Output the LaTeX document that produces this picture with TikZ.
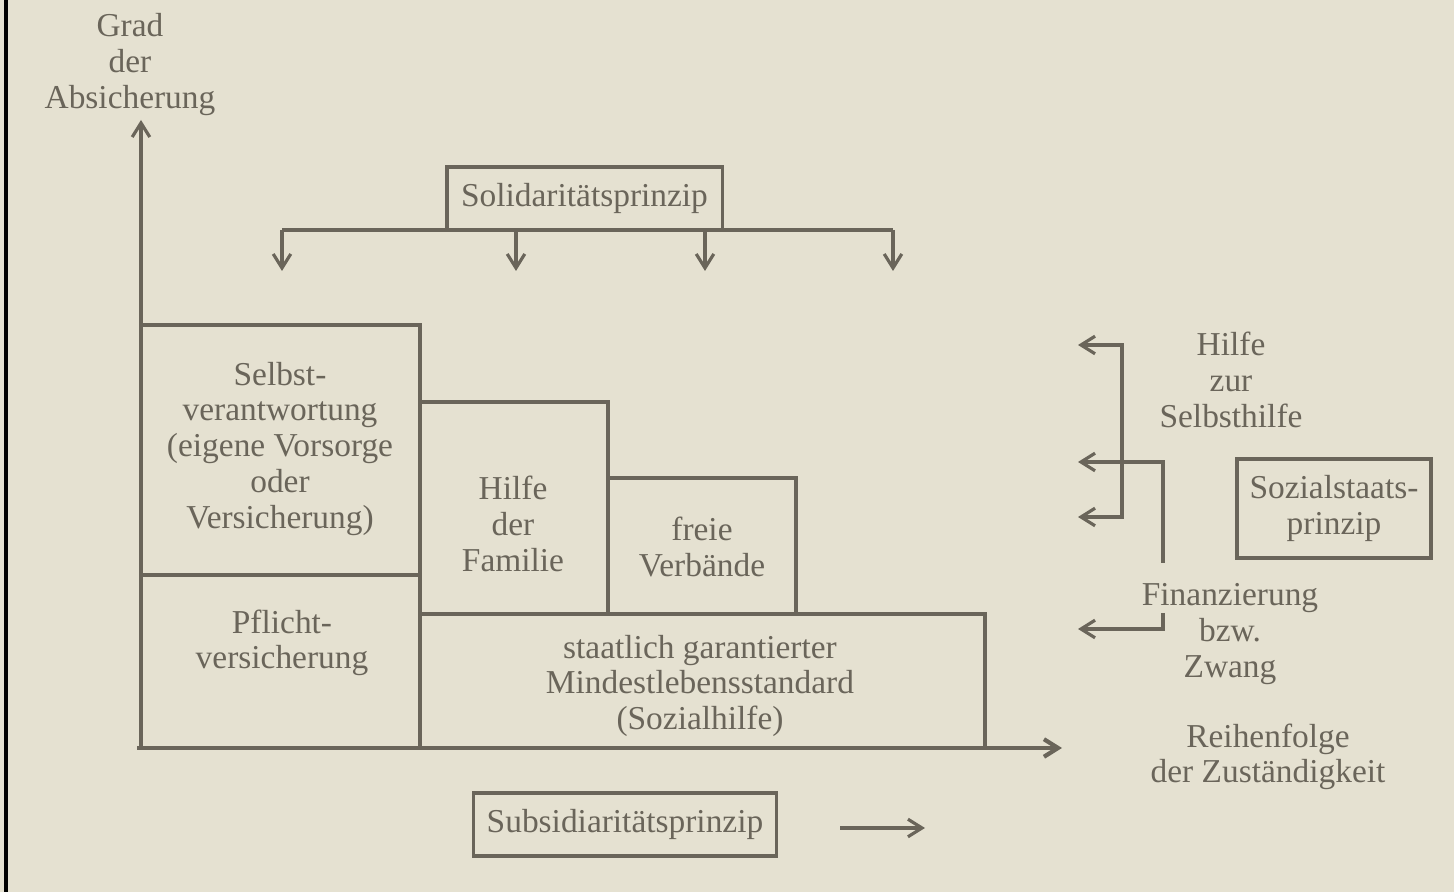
\documentclass[tikz,border=0pt]{standalone}
\usepackage{fontspec}
\setmainfont{Liberation Serif}
\usetikzlibrary{arrows.meta}

\definecolor{papier}{RGB}{229,225,209}
\definecolor{tinte}{RGB}{106,101,90}

\tikzset{
  linie/.style={draw=tinte, line width=0.9pt},
  pfeil/.style={linie, -{Straight Barb[length=4pt,width=5pt]}},
  doppelpfeil/.style={linie, {Straight Barb[length=4pt,width=5pt]}-{Straight Barb[length=4pt,width=5pt]}},
  schrift/.style={text=tinte, align=center, inner sep=0pt, font=\fontsize{9.5}{10.2}\selectfont},
  beschr/.style={schrift, yshift=-1.1pt},
  kasten/.style={schrift, draw=tinte, line width=0.9pt}
}

\begin{document}
\begin{tikzpicture}[x=0.01cm, y=-0.01cm]
        \fill[papier] (0,0) rectangle (1454,892);
        \useasboundingbox (0,0) rectangle (1454,892);
        \fill[black] (4,0) rectangle (8,892);

        % Achsen
        \coordinate (ursprung) at (141,748);
        \coordinate (yende) at (141,120);
        \coordinate (xende) at (1062,748);
        \draw[pfeil] (ursprung) -- (yende);
        \draw[pfeil, line width=1.2pt] (137,748) -- (xende);

        \node[beschr] (grad) at (130,61) {Grad\\der\\Absicherung};
        \node[beschr] (reihe) at (1268,753) {Reihenfolge\\der Zuständigkeit};

        % Stufen
        \draw[linie] (141,325) rectangle (420,575);
        \draw[linie] (141,575) rectangle (420,748);
        \draw[linie] (420,402) rectangle (608,614);
        \draw[linie] (608,478) rectangle (796,614);
        \draw[linie] (420,614) rectangle (985,748);

        \node[beschr] (selbst) at (280,445) {Selbst-\\verantwortung\\(eigene Vorsorge\\oder\\Versicherung)};
        \node[beschr] (pflicht) at (282,639) {Pflicht-\\versicherung};
        \node[beschr] (familie) at (513,520) {Hilfe\\der\\Familie};
        \node[beschr] (verband) at (702,543) {freie\\Verbände};
        \node[beschr] (staat) at (700,682) {staatlich garantierter\\Mindestlebensstandard\\(Sozialhilfe)};

        % Solidaritaet
        \node[kasten, minimum width=2.75cm, minimum height=0.63cm] (soli) at (584.5,198.5) {Solidaritätsprinzip};
        \coordinate (sl) at (282,230);
        \coordinate (sr) at (893,230);
        \draw[linie] (sl) -- (sr);
        \foreach \x in {282,516,705,893}
            \draw[pfeil] (\x,230) -- (\x,271);

        % Subsidiaritaet
        \node[kasten, minimum width=3.02cm, minimum height=0.63cm] (subsi) at (625,824.5) {Subsidiaritätsprinzip};
        \coordinate (sa) at (840,828);
        \draw[pfeil] (sa) -- ++(85,0);

        % Sozialstaat
        \node[kasten, minimum width=1.94cm, minimum height=0.99cm] (sozial) at (1334,508.5) {Sozialstaats-\\prinzip};
        \node[beschr] (hilfe) at (1231,376) {Hilfe\\zur\\Selbsthilfe};
        \node[beschr] (finanz) at (1230,630) {Finanzierung\\bzw.\\Zwang};

        \draw[doppelpfeil] (1078,345) -- (1122,345) -- (1122,517) -- (1078,517);
        \draw[pfeil] (1163,563) -- (1163,462) -- (1078,462);
        \draw[pfeil] (1163,613) -- (1163,629) -- (1078,629);

    \end{tikzpicture}
\end{document}
